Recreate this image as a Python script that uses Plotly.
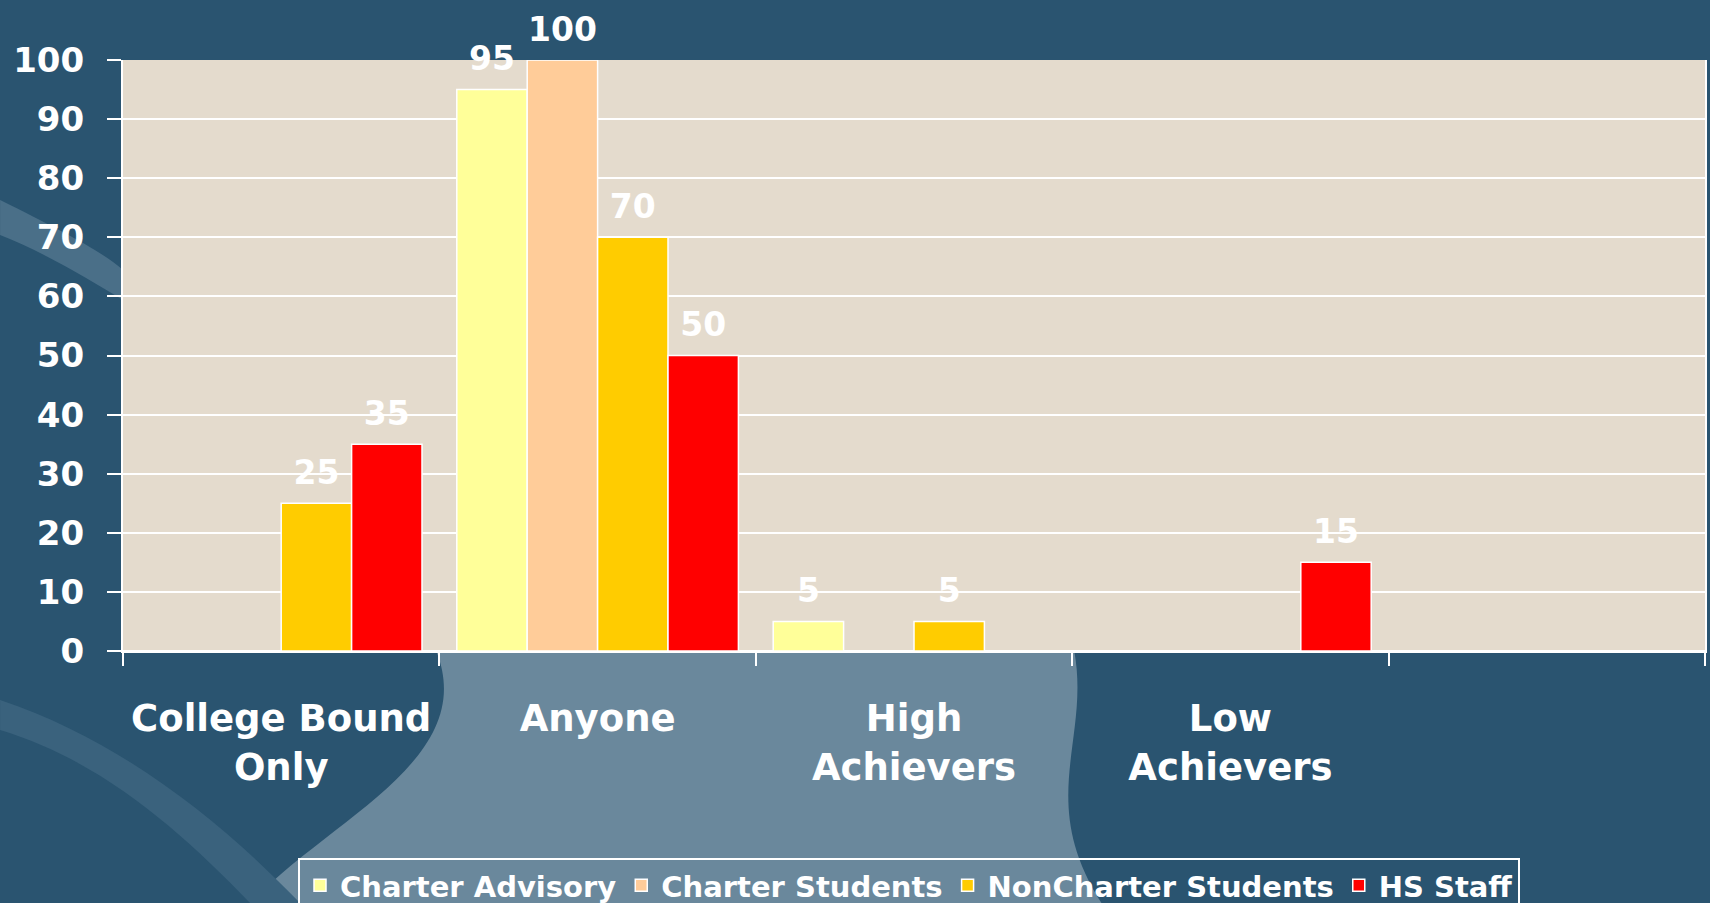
import plotly.graph_objects as go

# ---- data ----
categories = ["College Bound<br>Only", "Anyone", "High<br>Achievers", "Low<br>Achievers", "\u00a0"]
series_names = ["Charter Advisory", "Charter Students", "NonCharter Students", "HS Staff"]
charter_advisory = [None, 95, 5, None, None]
charter_students = [None, 100, None, None, None]
noncharter_students = [25, 70, 5, None, None]
hs_staff = [35, 50, None, 15, None]
y_tick_values = list(range(0, 101, 10))

series_values = [charter_advisory, charter_students, noncharter_students, hs_staff]
colors = ["#FFFF99", "#FFCC99", "#FFCC00", "#FF0000"]

W, H = 1710, 903
ML, MR, MT, MB = 123, 5, 60, 252
PW, PH = W - ML - MR, H - MT - MB

FONT = "DejaVu Sans"

fig = go.Figure()

for name, vals, col in zip(series_names, series_values, colors):
    fig.add_trace(go.Bar(
        name=name, x=categories, y=vals,
        marker=dict(color=col, line=dict(color="white", width=1.5)),
        hoverinfo="x+y+name",
    ))

# value labels, grouped the same way as the bars
for i, (name, vals) in enumerate(zip(series_names, series_values)):
    fig.add_trace(go.Scatter(
        x=categories, y=vals, mode="markers+text",
        text=[("" if v is None else str(v)) for v in vals],
        textposition="top center",
        textfont=dict(family=FONT, size=33, color="white", weight="bold"),
        marker=dict(size=16, opacity=0),
        showlegend=False, hoverinfo="skip", cliponaxis=False,
        orientation="v", offsetgroup="s%d" % i, alignmentgroup="s",
    ))


def px2paper(px, py):
    return (px - ML) / PW, (H - MB - py) / PH


def path_from(points):
    s = ""
    for cmd, pts in points:
        s += cmd + " " + " ".join("%.4f,%.4f" % px2paper(*p) for p in pts) + " "
    return s + "Z"


sc = 1710 / 1568
light = path_from([
    ("M", [(400 * sc, 651)]),
    ("L", [(985 * sc, 651)]),
    ("C", [(1000 * sc, 740), (950 * sc, 800), (1010 * sc, 903)]),
    ("L", [(230 * sc, 903)]),
    ("C", [(300 * sc, 820), (440 * sc, 760), (400 * sc, 651)]),
])
swoosh = path_from([
    ("M", [(0, 200)]),
    ("C", [(60, 230), (100, 250), (123, 270)]),
    ("L", [(123, 300)]),
    ("C", [(90, 280), (40, 250), (0, 235)]),
])
swoosh2 = path_from([
    ("M", [(0, 700)]),
    ("C", [(120, 740), (220, 820), (300, 903)]),
    ("L", [(250, 903)]),
    ("C", [(180, 830), (100, 760), (0, 730)]),
])

fig.update_layout(
    width=W, height=H,
    margin=dict(l=ML, r=MR, t=MT, b=MB, pad=0, autoexpand=False),
    paper_bgcolor="#2A5470",
    plot_bgcolor="#E4DBCD",
    barmode="group", bargap=0.11, bargroupgap=0,
    scattermode="group", scattergap=0.11,
    font=dict(family=FONT, color="white", weight="bold"),
    showlegend=True,
    legend=dict(
        orientation="h", x=(298 - ML) / PW, y=(H - MB - 858) / PH,
        xanchor="left", yanchor="top",
        bgcolor="rgba(0,0,0,0)", bordercolor="white", borderwidth=2,
        font=dict(family=FONT, size=29, color="white", weight="bold"),
        itemwidth=30, tracegroupgap=0,
    ),
    xaxis=dict(
        type="category", categoryorder="array", categoryarray=categories,
        range=[-0.5, len(categories) - 0.5], automargin=False,
        tickson="boundaries", ticks="outside", ticklen=13, tickwidth=2, tickcolor="white",
        showline=True, linecolor="white", linewidth=2,
        showgrid=False, zeroline=False,
        tickfont=dict(family=FONT, size=37, color="white", weight="bold"),
        ticklabelstandoff=34,
    ),
    yaxis=dict(
        range=[0, 100], tickvals=y_tick_values, automargin=False,
        ticks="outside", ticklen=14, tickwidth=2, tickcolor="white",
        showline=True, linecolor="white", linewidth=2, mirror=True,
        showgrid=True, gridcolor="white", gridwidth=2,
        zeroline=True, zerolinecolor="white", zerolinewidth=2,
        tickfont=dict(family=FONT, size=34, color="white", weight="bold"),
        ticklabelstandoff=16,
    ),
    shapes=[
        dict(type="path", xref="paper", yref="paper", path=light,
             fillcolor="#6A889C", line=dict(width=0), layer="below"),
        dict(type="path", xref="paper", yref="paper", path=swoosh,
             fillcolor="#4A6F88", line=dict(width=0), layer="below"),
        dict(type="path", xref="paper", yref="paper", path=swoosh2,
             fillcolor="#3A627D", line=dict(width=0), layer="below"),
    ],
)

fig.write_html(
    "out.html",
    config={"displayModeBar": False},
    post_script="document.body.style.margin='0';document.body.style.overflow='hidden';",
)
